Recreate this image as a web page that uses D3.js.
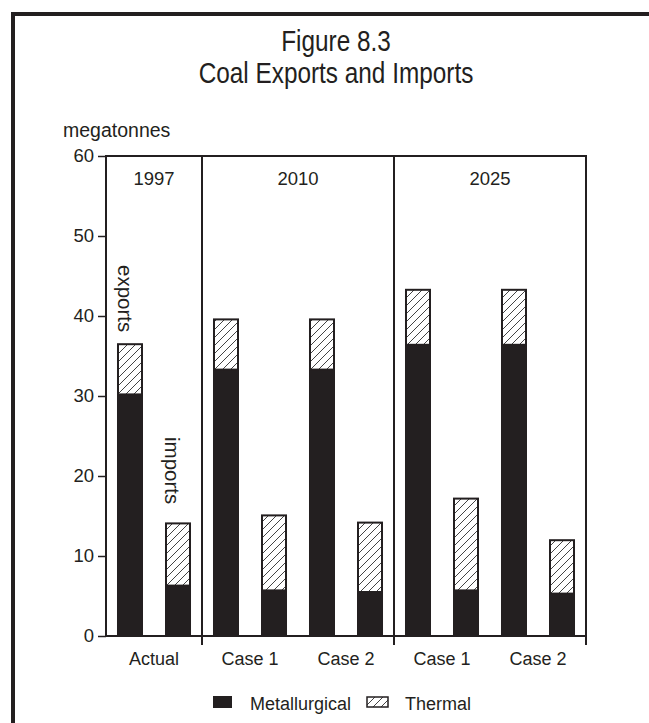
<!DOCTYPE html>
<html><head><meta charset="utf-8">
<script src="https://cdn.jsdelivr.net/npm/d3@7"></script>
<style>
html,body{margin:0;padding:0;background:#fff;}
svg{display:block;}
text{font-family:"Liberation Sans",Arial,sans-serif;fill:#231f20;}
</style>
</head><body>
<script>
// ---- data ----
const categories = ["Actual", "Case 1", "Case 2", "Case 1", "Case 2"];
const groupLabels = ["1997", "2010", "2025"];
const groupSizes = [1, 2, 2];
const exportsMet = [30.2, 33.3, 33.3, 36.4, 36.4];
const exportsThermal = [6.4, 6.4, 6.4, 7.0, 7.0];
const importsMet = [6.3, 5.7, 5.5, 5.7, 5.3];
const importsThermal = [7.9, 9.5, 8.8, 11.6, 6.8];
const yTicks = [0, 10, 20, 30, 40, 50, 60];
const flows = ["exports", "imports"];
const legendLabels = ["Metallurgical", "Thermal"];
const titleLines = ["Figure 8.3", "Coal Exports and Imports"];

const W = 649, H = 723;
const dark = "#231f20";
const svg = d3.select("body").append("svg").attr("width", W).attr("height", H);

const defs = svg.append("defs");
const pat = defs.append("pattern").attr("id", "hatch").attr("patternUnits", "userSpaceOnUse")
  .attr("width", 8).attr("height", 8);
pat.append("rect").attr("width", 8).attr("height", 8).attr("fill", "#fff");
pat.append("path").attr("d", "M-2,2 L2,-2 M0,8 L8,0 M6,10 L10,6")
  .attr("stroke", "#444").attr("stroke-width", 1);

// outer frame
svg.append("path").attr("d", `M13,${H} V14 H${W}`).attr("fill", "none")
  .attr("stroke", dark).attr("stroke-width", 4);

// title (condensed look via horizontal scale)
titleLines.forEach((t, i) => {
  svg.append("text").attr("transform", `translate(336,${51 + i * 32}) scale(0.84,1)`)
    .attr("text-anchor", "middle").style("font-size", "29px").text(t);
});

const plot = {left: 106, right: 586, top: 156, bottom: 636};
const x = d3.scaleBand().domain(d3.range(categories.length)).range([plot.left, plot.right]);
const xs = d3.scaleBand().domain(flows).range([0, x.bandwidth()]).paddingInner(0.4583).paddingOuter(0.229);
const y = d3.scaleLinear().domain([0, 60]).range([plot.bottom, plot.top]);

// y label
svg.append("text").attr("x", 63).attr("y", 137).style("font-size", "19.5px").text("megatonnes");

// y axis
const yAxis = d3.axisLeft(y).tickValues(yTicks).tickSize(8).tickPadding(4);
const ya = svg.append("g").attr("transform", `translate(${plot.left},0)`).call(yAxis);
ya.select(".domain").remove();
ya.selectAll(".tick line").attr("stroke", dark).attr("stroke-width", 1.5);
ya.selectAll(".tick text").style("font-size", "18.5px").style("font-family", "'Liberation Sans',Arial,sans-serif").attr("fill", dark);

// bars
const rows = categories.map((c, i) => ({i, exportsMet: exportsMet[i], exportsThermal: exportsThermal[i],
  importsMet: importsMet[i], importsThermal: importsThermal[i]}));
const bars = svg.append("g");
rows.forEach(r => {
  flows.forEach(f => {
    const met = r[f + "Met"], th = r[f + "Thermal"];
    const bx = x(r.i) + xs(f), bw = xs.bandwidth();
    bars.append("rect").attr("x", bx).attr("y", y(met)).attr("width", bw)
      .attr("height", y(0) - y(met)).attr("fill", dark);
    bars.append("rect").attr("x", bx + 1).attr("y", y(met + th) + 1).attr("width", bw - 2)
      .attr("height", y(met) - y(met + th) - 1).attr("fill", "url(#hatch)")
      .attr("stroke", dark).attr("stroke-width", 2);
  });
});

// frame of plot
svg.append("rect").attr("x", plot.left).attr("y", plot.top).attr("width", plot.right - plot.left)
  .attr("height", plot.bottom - plot.top).attr("fill", "none").attr("stroke", dark).attr("stroke-width", 2);

// group dividers and group labels
let start = 0;
const dividerIdx = [];
groupSizes.forEach((n, g) => {
  const x0 = x(start), x1 = x(start + n - 1) + x.bandwidth();
  svg.append("text").attr("x", (x0 + x1) / 2).attr("y", 185).attr("text-anchor", "middle")
    .style("font-size", "18.5px").text(groupLabels[g]);
  start += n;
  dividerIdx.push(x1);
});
dividerIdx.forEach((dx, k) => {
  const top = k < dividerIdx.length - 1 ? plot.top : plot.bottom;
  svg.append("line").attr("x1", dx).attr("x2", dx).attr("y1", top).attr("y2", plot.bottom + 9)
    .attr("stroke", dark).attr("stroke-width", 2);
});

// x labels
svg.append("g").selectAll("text").data(categories).join("text")
  .attr("x", (d, i) => x(i) + x.bandwidth() / 2).attr("y", 665).attr("text-anchor", "middle")
  .style("font-size", "18px").text(d => d);

// rotated labels
const ex = x(0) + xs("exports"), im = x(0) + xs("imports");
svg.append("text").attr("transform", `translate(${ex + 1},265) rotate(90)`)
  .style("font-size", "20.5px").text("exports");
svg.append("text").attr("transform", `translate(${im},437) rotate(90)`)
  .style("font-size", "20.5px").text("imports");

// legend
const lg = svg.append("g");
lg.append("rect").attr("x", 213).attr("y", 696).attr("width", 19).attr("height", 12).attr("fill", dark);
lg.append("text").attr("x", 250).attr("y", 710).style("font-size", "18px").text(legendLabels[0]);
lg.append("rect").attr("x", 367).attr("y", 697).attr("width", 21).attr("height", 10)
  .attr("fill", "url(#hatch)").attr("stroke", dark).attr("stroke-width", 1.5);
lg.append("text").attr("x", 405).attr("y", 710).style("font-size", "18px").text(legendLabels[1]);
</script>
</body></html>
